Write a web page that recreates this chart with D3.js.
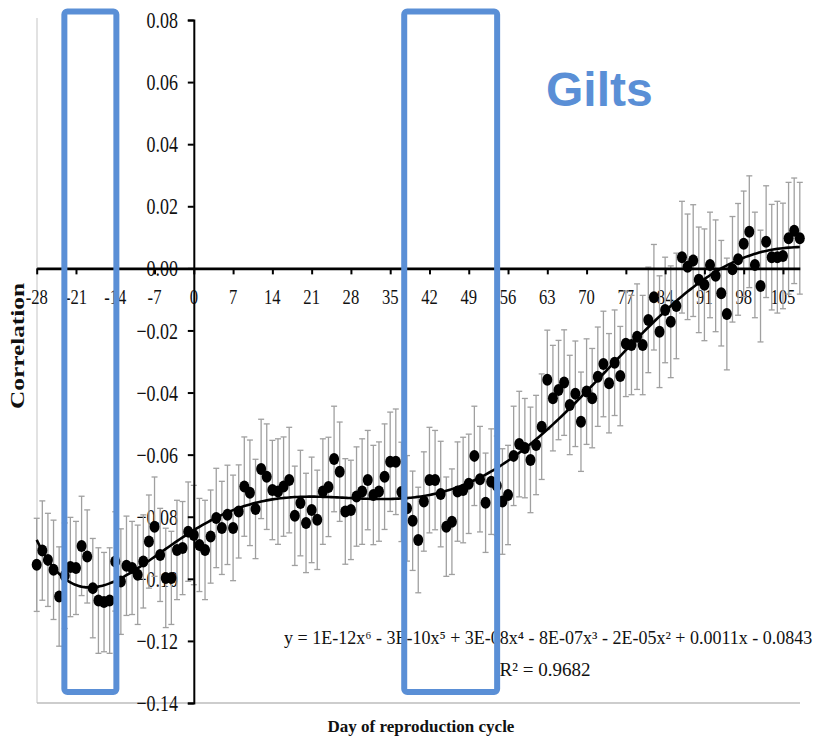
<!DOCTYPE html>
<html><head><meta charset="utf-8">
<script src="https://cdn.jsdelivr.net/npm/d3@7"></script>
<style>body{margin:0;background:#fff}svg{display:block}</style>
</head><body>
<svg id="c" width="815" height="739"></svg>
<script>
// ---------- data ----------
const startDay = -28;
const correlation = [
 -0.0955,-0.0909,-0.0939,-0.0971,-0.1057,-0.0990,-0.0962,-0.0965,-0.0894,-0.0928,
 -0.1030,-0.1070,-0.1075,-0.1070,-0.0944,-0.1009,-0.0958,-0.0965,-0.0987,-0.0944,
 -0.0880,-0.0832,-0.0923,-0.0997,-0.0997,-0.0907,-0.0901,-0.0848,-0.0859,-0.0891,
 -0.0907,-0.0864,-0.0804,-0.0836,-0.0794,-0.0836,-0.0783,-0.0703,-0.0723,-0.0775,
 -0.0646,-0.0671,-0.0714,-0.0719,-0.0703,-0.0682,-0.0797,-0.0756,-0.0820,-0.0778,
 -0.0810,-0.0719,-0.0704,-0.0614,-0.0655,-0.0783,-0.0778,-0.0735,-0.0719,-0.0682,
 -0.0730,-0.0719,-0.0671,-0.0623,-0.0623,-0.0720,-0.0773,-0.0813,-0.0875,-0.0751,
 -0.0682,-0.0682,-0.0727,-0.0832,-0.0816,-0.0719,-0.0714,-0.0694,-0.0604,-0.0679,
 -0.0755,-0.0687,-0.0700,-0.0751,-0.0730,-0.0604,-0.0566,-0.0579,-0.0617,-0.0569,
 -0.0510,-0.0359,-0.0418,-0.0392,-0.0368,-0.0440,-0.0404,-0.0494,-0.0397,-0.0418,
 -0.0349,-0.0308,-0.0370,-0.0304,-0.0347,-0.0243,-0.0247,-0.0220,-0.0247,-0.0166,
 -0.0093,-0.0204,-0.0134,-0.0172,-0.0121, 0.0036, 0.0005, 0.0025,-0.0037,-0.0053,
  0.0011,-0.0024,-0.0080,-0.0147,-0.0003, 0.0029, 0.0079, 0.0118, 0.0011,-0.0057,
  0.0086, 0.0036, 0.0036, 0.0040, 0.0097, 0.0121, 0.0097
];
const stdError = [
 0.015,0.016,0.015,0.016,0.016,0.017,0.016,0.015,0.016,0.015,
 0.016,0.017,0.016,0.017,0.016,0.017,0.016,0.015,0.016,0.015,
 0.015,0.016,0.015,0.016,0.015,0.016,0.015,0.016,0.016,0.015,
 0.016,0.015,0.016,0.015,0.016,0.017,0.015,0.016,0.017,0.016,
 0.016,0.017,0.016,0.017,0.016,0.017,0.016,0.017,0.016,0.017,
 0.016,0.017,0.016,0.017,0.016,0.017,0.016,0.016,0.017,0.016,
 0.016,0.016,0.017,0.016,0.017,0.016,0.017,0.016,0.017,0.016,
 0.017,0.016,0.017,0.016,0.017,0.016,0.017,0.016,0.016,0.017,
 0.016,0.017,0.016,0.017,0.016,0.016,0.017,0.016,0.017,0.016,
 0.017,0.016,0.017,0.016,0.017,0.016,0.017,0.016,0.017,0.016,
 0.016,0.017,0.016,0.017,0.016,0.017,0.016,0.017,0.016,0.017,
 0.017,0.018,0.017,0.018,0.017,0.018,0.017,0.018,0.017,0.018,
 0.017,0.018,0.017,0.018,0.017,0.018,0.017,0.018,0.017,0.018,
 0.018,0.017,0.018,0.017,0.018,0.017,0.018
];
const xTickValues = [-28,-21,-14,-7,0,7,14,21,28,35,42,49,56,63,70,77,84,91,98,105];
const yTickValues = [0.08,0.06,0.04,0.02,0.00,-0.02,-0.04,-0.06,-0.08,-0.10,-0.12,-0.14];
const highlightDays = [[-23.07,-13.8],[37.5,54.06]];
const equationText = "y = 1E-12x⁶ - 3E-10x⁵ + 3E-08x⁴ - 8E-07x³ - 2E-05x² + 0.0011x - 0.0843";
const r2Text = "R² = 0.9682";
const panelTitle = "Gilts";
const xTitle = "Day of reproduction cycle";
const yTitle = "Correlation";

// ---------- chart ----------
const data = correlation.map((v,i)=>({day:startDay+i, v, e:stdError[i]}));
const svg = d3.select("#c");
const x = d3.scaleLinear().domain([-28,108]).range([36.7,799.8]);
const y = d3.scaleLinear().domain([-0.14,0.08]).range([703,20]);
const serif = "'Liberation Serif','Times New Roman',serif";
const blue = "#5a8fd6";

function condense(sel, f){
  sel.each(function(){
    const w = this.getComputedTextLength();
    d3.select(this).attr("textLength", w*f).attr("lengthAdjust","spacingAndGlyphs");
  });
}

// plot frame (light)
svg.append("line").attr("x1",37).attr("x2",37).attr("y1",18).attr("y2",703)
  .attr("stroke","#cfcfcf").attr("stroke-width",1.2);
svg.append("line").attr("x1",37).attr("x2",800).attr("y1",703).attr("y2",703)
  .attr("stroke","#bdbdbd").attr("stroke-width",1.5);

// y tick labels
const yl = svg.append("g").selectAll("text").data(yTickValues).join("text")
  .attr("x",178).attr("y",d=>y(d)).attr("dy","0.35em")
  .attr("text-anchor","end").attr("font-family",serif).attr("font-size",23)
  .attr("fill","#111").text(d=>d3.format(".2f")(d));
condense(yl, 0.78);

// x tick labels
const xl = svg.append("g").selectAll("text").data(xTickValues).join("text")
  .attr("x",d=>x(d)).attr("y",304).attr("text-anchor","middle")
  .attr("font-family",serif).attr("font-size",20).attr("fill","#111").text(d=>d);
condense(xl, 0.83);

// error bars
const eb = svg.append("g").attr("stroke","#a0a0a0").attr("stroke-width",1.3);
data.forEach(d=>{
  const cx = x(d.day);
  eb.append("line").attr("x1",cx).attr("x2",cx).attr("y1",y(d.v+d.e)).attr("y2",y(d.v-d.e));
  eb.append("line").attr("x1",cx-3).attr("x2",cx+3).attr("y1",y(d.v+d.e)).attr("y2",y(d.v+d.e));
  eb.append("line").attr("x1",cx-3).attr("x2",cx+3).attr("y1",y(d.v-d.e)).attr("y2",y(d.v-d.e));
});

// axes (crossing at 0)
const yAxis = d3.axisLeft(y).tickValues(yTickValues).tickSize(6).tickFormat("");
svg.append("g").attr("transform",`translate(${x(0)},0)`).call(yAxis)
  .call(g=>g.selectAll("path,line").attr("stroke","#000").attr("stroke-width",2));
const xAxis = d3.axisBottom(x).tickValues(xTickValues).tickSize(6).tickSizeOuter(0).tickFormat("");
svg.append("g").attr("transform",`translate(0,${y(0)})`).call(xAxis)
  .call(g=>g.select("path").attr("stroke","#000").attr("stroke-width",2.6))
  .call(g=>g.selectAll("line").attr("stroke","#000").attr("stroke-width",2));

// points
svg.append("g").selectAll("ellipse").data(data).join("ellipse")
  .attr("cx",d=>x(d.day)).attr("cy",d=>y(d.v)).attr("rx",5).attr("ry",6).attr("fill","#000");

// 6th order polynomial trendline (least squares)
function polyfit(xs, ys, deg){
  const n = deg+1;
  const A = Array.from({length:n},()=>new Array(n+1).fill(0));
  xs.forEach((xv,k)=>{
    const t = xv/100, pw=[1];
    for(let i=1;i<=2*deg;i++) pw.push(pw[i-1]*t);
    for(let i=0;i<n;i++){ for(let j=0;j<n;j++) A[i][j]+=pw[i+j]; A[i][n]+=pw[i]*ys[k]; }
  });
  for(let c=0;c<n;c++){
    let p=c; for(let r=c+1;r<n;r++) if(Math.abs(A[r][c])>Math.abs(A[p][c])) p=r;
    [A[c],A[p]]=[A[p],A[c]];
    for(let r=0;r<n;r++){ if(r===c) continue; const f=A[r][c]/A[c][c]; for(let k=c;k<=n;k++) A[r][k]-=f*A[c][k]; }
  }
  return A.map((row,i)=>row[n]/row[i]);
}
const coef = polyfit(data.map(d=>d.day), data.map(d=>d.v), 6);
const fitVal = dd => coef.reduce((s,c,i)=>s+c*Math.pow(dd/100,i),0);
const fitPts = d3.range(-28,108.01,0.5).map(dd=>[dd,fitVal(dd)]);
svg.append("path").datum(fitPts)
  .attr("d",d3.line().x(d=>x(d[0])).y(d=>y(d[1])).curve(d3.curveMonotoneX))
  .attr("fill","none").attr("stroke","#000").attr("stroke-width",2.6);

// equation & R2
svg.append("text").attr("x",284).attr("y",644).attr("font-family",serif)
  .attr("font-size",18).attr("fill","#111").text(equationText);
svg.append("text").attr("x",545).attr("y",676).attr("text-anchor","middle")
  .attr("font-family",serif).attr("font-size",19).attr("fill","#111").text(r2Text);

// axis titles
svg.append("text").attr("x",421).attr("y",732).attr("text-anchor","middle")
  .attr("font-family",serif).attr("font-weight","bold").attr("font-size",17)
  .attr("fill","#111").text(xTitle);
svg.append("text").attr("transform","translate(24,346) rotate(-90)").attr("text-anchor","middle")
  .attr("font-family",serif).attr("font-weight","bold").attr("font-size",18)
  .attr("textLength",126).attr("lengthAdjust","spacingAndGlyphs").attr("fill","#111").text(yTitle);

// highlight rectangles
svg.append("g").selectAll("rect").data(highlightDays).join("rect")
  .attr("x",d=>x(d[0])).attr("width",d=>x(d[1])-x(d[0]))
  .attr("y",11.5).attr("height",680.5).attr("rx",3)
  .attr("fill","none").attr("stroke",blue).attr("stroke-width",6);

// panel title
svg.append("text").attr("x",546).attr("y",106)
  .attr("font-family","'Liberation Sans',Arial,sans-serif").attr("font-weight","bold")
  .attr("font-size",48).attr("fill",blue).text(panelTitle);
</script>
</body></html>
